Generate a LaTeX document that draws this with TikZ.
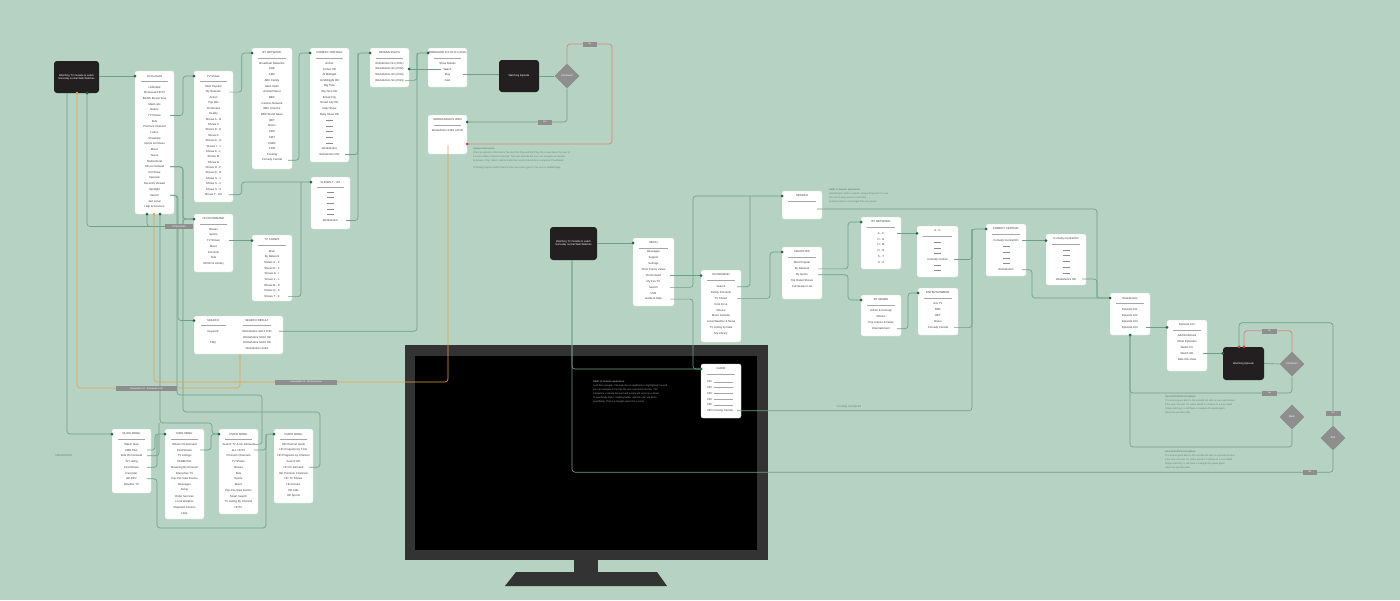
\documentclass[tikz,border=0pt]{standalone}
\usepackage{fontspec}
\setmainfont{Liberation Sans}
\usetikzlibrary{shapes.geometric,calc}
\definecolor{bgc}{HTML}{B6D2C3}
\definecolor{lnc}{HTML}{6FA086}
\definecolor{dtc}{HTML}{1F6B3D}
\definecolor{orc}{HTML}{F0A04B}
\definecolor{rdc}{HTML}{D98A7E}
\definecolor{rdd}{HTML}{E53935}
\definecolor{gyc}{HTML}{8E8E8E}
\definecolor{blc}{HTML}{231F20}
\definecolor{txc}{HTML}{3A3A3A}
\definecolor{ntc}{HTML}{6F8479}
\definecolor{tvf}{HTML}{333333}
\newcommand\dsh{\textcolor{black!45}{\rule[0.8pt]{7pt}{0.15pt}}}
\newcommand\menubox[6]{%
  \node[bx, minimum width={(#4)-(#2)}, minimum height={(#5)-(#3)}] (#1) at ({((#2)+(#4))/2},{((#3)+(#5))/2}) {};
  \node[ttl] (#1-t) at ({((#2)+(#4))/2},{(#3)+5}) {#6};
  \draw[rul] ({(#2)+6},{(#3)+9.7}) -- ({(#4)-6},{(#3)+9.7});
}
\newcommand\mitems[5]{%
  \foreach \itxt [count=\i] in {#5} {\node[itm] (#1-\i) at (#2,{(#3)+(\i-1)*(#4)}) {\itxt};}
}
\newcommand\msrc[2]{\coordinate (#1-#2-s) at ($(#1.east |- #1-#2)+(-4,0)$);}
\tikzset{
 bx/.style={draw=black!15, line width=0.3pt, fill=white, rounded corners=2pt, inner sep=0pt, outer sep=0pt},
 ttl/.style={font=\fontsize{2.8}{3}\selectfont, text=txc, inner sep=0pt},
 itm/.style={font=\fontsize{2.8}{3}\selectfont, text=txc, inner sep=0pt},
 rul/.style={draw=black!35, line width=0.3pt},
 conn/.style={draw=lnc, line width=0.65pt, rounded corners=3pt},
 oconn/.style={draw=orc, line width=0.65pt, rounded corners=3pt},
 rconn/.style={draw=rdc, line width=0.8pt, rounded corners=3pt},
 gdot/.style={circle, fill=dtc, inner sep=0pt, minimum size=3pt},
 odot/.style={circle, fill=orc, inner sep=0pt, minimum size=3pt},
 rdot/.style={circle, fill=rdd, inner sep=0pt, minimum size=3pt},
 lbl/.style={fill=gyc, text=white, font=\fontsize{2.2}{2.5}\selectfont, inner sep=0pt, minimum height=5pt},
 blk/.style={fill=blc, rounded corners=3pt, text=white, font=\fontsize{2.6}{3.2}\selectfont, align=center, inner sep=0pt},
 dia/.style={diamond, fill=gyc, text=white, font=\fontsize{2.6}{3}\selectfont, inner sep=0pt, minimum width=25pt, minimum height=25pt},
 note/.style={font=\fontsize{2.4}{3.9}\selectfont, text=ntc, align=left, inner sep=0pt, anchor=north west},
}
\begin{document}
\begin{tikzpicture}[x=1pt,y=-1pt]
\useasboundingbox (0,0) rectangle (1400,600);
\fill[bgc] (0,0) rectangle (1400,600);
% TV
\fill[tvf] (405,345) rectangle (768,560);
\fill[black] (415,356) rectangle (757,550);
\fill[tvf] (574,560) rectangle (598,572);
\fill[tvf] (516,572) -- (657,572) -- (667,586) -- (505,586) -- cycle;

% black boxes and diamonds
\node[blk, minimum width=45pt, minimum height=32pt] (b1) at (76.5,77) {Watching TV Outside to watch\\Someday normal Web Watches};
\node[blk, minimum width=47pt, minimum height=33pt] (b2) at (573.5,243.5) {Watching TV Outside to watch\\Someday normal Web Watches};
\node[blk, minimum width=40pt, minimum height=32pt] (b3) at (519,76) {Watching Episode};
\node[blk, minimum width=41pt, minimum height=33pt] (b4) at (1243.5,363.5) {Watching Episode};
\node[dia] (dC1) at (567,76) {Continue?};
\node[dia] (dC2) at (1292,364) {Continue?};
\node[dia] (dBk) at (1292,417) {Back};
\node[dia] (dEx) at (1333,438) {Exit};

% left boxes
\menubox{onD}{135}{71}{174}{214}{On Demand}
\mitems{onD}{154.5}{87}{5.7}{Unbridled,Showcase/HDTV,BASIS Boxed Sets,Mad Lists,Nature,TV Shows,Kids,Premium Channel,Latino,Showtime,Sports \& Fitness,Music,Teens,Multicultural,HD on Demand,Pet Show,Specials,Recently Viewed,Spotlight,Search,Get Local,Help \& Services}
\menubox{tvs}{194}{71}{233}{202}{TV Shows}
\mitems{tvs}{213.5}{86.7}{5.4}{Most Popular,By Network,Action,Pop Bits,10 Minutes,Reality,Shows A - B,Shows C,Shows D - E,Shows F,Shows G - H,Shows I - J,Shows K - L,Shows M,Shows N,Shows O - P,Shows Q - R,Shows S - 1,Shows S - 2,Shows S - 3,Shows T - Z/\#}
\menubox{byn}{252}{48}{292}{169}{BY NETWORK}
\mitems{byn}{272}{63.3}{5.7}{Broadcast Networks,A\&E,AMC,ABC Family,Adult Swim,Animal Planet,BBC,Cartoon Network,BBC America,BBC World News,BET,Bravo,CBS,CMT,CNBC,CNN,Cooking,Comedy Central}
\menubox{cc}{310}{48}{349}{162}{COMEDY CENTRAL}
\mitems{cc}{329.5}{63.3}{5.7}{Archer,Archer HD,At Midnight,At Midnight HD,Big Time,Big Time HD,Broad City,Broad City HD,Daily Show,Daily Show HD,\dsh,\dsh,\dsh,\dsh,\dsh,Workaholics,Workaholics HD}
\menubox{wk}{370}{48}{409}{87}{WORKAHOLICS}
\mitems{wk}{389.5}{63.3}{5.7}{Workaholics S1 (2011),Workaholics S2 (2012),Workaholics S3 (2013),Workaholics S4 (2014)}
\menubox{wke}{428}{48}{467}{87}{WORKAHOLICS S1 E1 (2011)}
\mitems{wke}{447.5}{63.3}{5.7}{Show Details,Watch,Play,Cast}
\menubox{wki}{428}{115}{467}{154}{WORKAHOLICS INFO}
\mitems{wki}{447.5}{130.7}{5.7}{Workaholics S1E1 (2011)}
\menubox{stz}{311}{177}{350}{229}{SHOWS T - Z/\#}
\mitems{stz}{330.5}{192}{5.7}{\dsh,\dsh,\dsh,\dsh,\dsh,Workaholics}
\menubox{hd}{194}{214}{233}{272}{HD ON DEMAND}
\mitems{hd}{213.5}{229.3}{5.7}{Movies,Sports,TV Shows,Music,Premium,Kids,HD/3D \& Library}
\menubox{tvt}{252}{235}{292}{301}{TV SHOWS}
\mitems{tvt}{272}{251}{5.7}{Main,By Network,Shows A - C,Shows D - F,Shows G - I,Shows J - L,Shows M - P,Shows Q - S,Shows T - Z}
% search box
\node[bx, minimum width=89pt, minimum height=38pt] (srch) at (238.5,335) {};
\node[ttl] (srch-t) at (213,320.5) {SEARCH};
\node[ttl] (srch-t2) at (257,320.5) {SEARCH RESULT};
\draw[rul] (201,325.5) -- (226,325.5);
\draw[rul] (243,325.5) -- (271,325.5);
\node[itm] (srch-l1) at (213,331.3) {Keyword};
\node[itm] (srch-l2) at (213,342.7) {TBQ};
\node[itm] (srch-r1) at (257,331.3) {Workaholics S1E1 THD};
\node[itm] (srch-r2) at (257,337) {Workaholics S1E2 HD};
\node[itm] (srch-r3) at (257,342.7) {Workaholics S1E3 HD};
\node[itm] (srch-r4) at (257,348.3) {Workaholics S1E4};
% bottom row
\menubox{qa}{112}{429}{151}{493}{QUICK MENU}
\mitems{qa}{131.5}{444.3}{5.75}{Watch Now,HBO Plus,Kids On Demand,TV Listing,Find Shows,Recorder,HD-EPV,Weather TV}
\menubox{mm}{165}{429}{204}{519}{MAIN MENU}
\mitems{mm}{184.5}{444.3}{5.75}{What's On Demand,Find Shows,TV Listings,PARENTAL,Browsing By Channel,Interactive TV,Pay-Per-View Events,Messages,Setup,Order Services,Local Weather,Reported Comms,Help}
\menubox{vm}{219}{429}{258}{514}{DVR/O MENU}
\mitems{vm}{238.5}{444.3}{5.75}{Search TV \& On Demand,ALL HDTV,Premium Channels,TV Shows,Movies,Kids,Sports,Music,Pay-Per-View Events,Smart Search,TV Listing By Channel,HDTV}
\menubox{hm}{274}{429}{313}{503}{DVR/O MENU}
\mitems{hm}{293.5}{444.3}{5.75}{HD Channel Guide,HD Programs by Time,HD Programs by Channel,Search HD,HD On Demand,HD Premium Channels,HD TV Shows,HD Movies,HD Kids,HD Sports}
% middle
\menubox{menu}{633}{238}{674}{306}{MENU}
\mitems{menu}{653.5}{252.3}{5.85}{Messages,Support,Settings,Short Frame Views,On Demand,My Fav TV,Search,DVR,Guide \& Help}
\menubox{od}{701}{270}{741}{342}{ON DEMAND}
\mitems{od}{721}{286.7}{5.85}{Search,Family Premium,TV Shows,Kids Zone,Movies,Music \& Radio,Local Weather \& News,TV Listing by Date,My Library}
\menubox{sr}{782}{191}{822}{219}{SEARCH}
\menubox{fav}{782}{247}{822}{299}{FAVORITES}
\mitems{fav}{802}{263}{5.9}{Most Popular,By Network,By Genre,Top Rated Shows,Full Season List}
\menubox{bn}{861}{217}{901}{269}{BY NETWORK}
\mitems{bn}{881}{233.3}{5.85}{A - C,D - G,H - M,N - R,S - T,U - Z}
\menubox{ac}{917}{226}{958}{277}{A - C}
\mitems{ac}{937.5}{242.7}{5.6}{\dsh,\dsh,\dsh,Comedy Central,\dsh,\dsh}
\menubox{bg}{861}{295}{901}{336}{BY GENRE}
\mitems{bg}{881}{311}{5.9}{Action \& Comedy,Movies,Pop Culture \& News,Entertainment}
\menubox{ent}{918}{288}{958}{335}{ENTERTAINMENT}
\mitems{ent}{938}{304}{5.9}{Ace TV,BBC,BET,Bravo,Comedy Central}
\menubox{cc2}{986}{224}{1026}{276}{COMEDY CENTRAL}
\mitems{cc2}{1006}{240.7}{5.8}{Comedy Central HD,\dsh,\dsh,\dsh,\dsh,Workaholics}
\menubox{cch}{1046}{234}{1086}{285}{Comedy Central HD}
\mitems{cch}{1066}{250}{5.8}{\dsh,\dsh,\dsh,\dsh,\dsh,Workaholics HD}
\menubox{wk2}{1110}{293}{1150}{335}{Workaholics}
\mitems{wk2}{1130}{309.3}{6}{Episode 101,Episode 102,Episode 103,Episode 104}
\menubox{ep}{1167}{320}{1207}{371}{Episode 104}
\mitems{ep}{1187}{335.7}{5.9}{Add Bookmark,Other Episodes,Watch CC,Watch HD,Rate this show}
\menubox{gd}{701}{364}{741}{418}{GUIDE}
\foreach \k [count=\i] in {010,020,030,040,050} {
  \node[itm, anchor=west] (gd-\i) at (707,{381.7+(\i-1)*5.8}) {\k};
  \draw[rul] ($(gd-\i.east)+(1.5,0)$) -- (733,{381.7+(\i-1)*5.8});
}
\node[itm, anchor=west] (gd-6) at (707,410.7) {060 Comedy Central};

% coordinates for dots and starts
\foreach \b in {onD,tvs,byn,cc,wk,wke,stz,hd,qa,mm,vm,hm,menu,sr,fav,bn,bg,ent,cc2,wk2,gd} {\coordinate (\b-d) at (\b.west |- \b-t);}
\coordinate (srch-d) at (srch.west |- srch-t);
\coordinate (tvt-d) at (tvt.west |- hd-3);
\coordinate (od-d) at (od.west |- menu-5);
\coordinate (ac-d) at (ac.west |- bn-1);
\coordinate (cch-d) at (cch.west |- cc2-1);
\coordinate (ep-d) at (ep.west |- wk2-4);
\coordinate (b4-d) at (b4.west |- ep-4);
\coordinate (wk2-b) at (wk2.south);
\coordinate (wk-r) at (wk.east |- wk-2);
\coordinate (wki-g) at ($(wki.north east)+(0,7)$);
\coordinate (wki-r) at ($(wki.north east)+(0,29)$);
\coordinate (b1g) at ($(b1.south)+(10.5,0)$);
\coordinate (b1o) at ($(b1.south)+(0.5,0)$);
\coordinate (onDd1) at ($(onD.south)+(-7.5,0)$);
\coordinate (onDo) at ($(onD.south)+(-0.5,0)$);
\coordinate (onDd2) at ($(onD.south)+(5.5,0)$);
\coordinate (b4r1) at ($(b4.north)+(-4.5,0)$);
\coordinate (b4r2) at ($(b4.north)+(0.5,0)$);
\coordinate (sr-s) at ($(sr.east)+(-5,4)$);
\coordinate (jn1) at (183,226.5);
\coordinate (jn2) at (177,395);
\coordinate (jn3) at (183,412);
\coordinate (jn4) at ($(vm-d)+(-7,-11)$);
\coordinate (jn6) at (157,528);
\msrc{onD}{6}\msrc{onD}{15}\msrc{onD}{20}\msrc{tvs}{2}\msrc{tvs}{21}\msrc{byn}{18}
\msrc{cc}{17}\msrc{stz}{6}\msrc{wk}{4}\msrc{wke}{3}\msrc{hd}{3}\msrc{tvt}{9}\msrc{srch}{r1}
\msrc{qa}{2}\msrc{qa}{3}\msrc{qa}{5}\msrc{qa}{7}\msrc{mm}{2}\msrc{vm}{1}\msrc{vm}{2}\msrc{hm}{5}
\msrc{menu}{5}\msrc{menu}{7}\msrc{menu}{9}\msrc{od}{1}\msrc{od}{3}\msrc{fav}{2}\msrc{fav}{3}
\msrc{bn}{1}\msrc{bg}{4}\msrc{ac}{4}\msrc{ent}{5}\msrc{gd}{6}\msrc{cc2}{1}\msrc{cc2}{6}\msrc{cch}{6}
\msrc{wk2}{4}\msrc{ep}{4}

% connectors left
\draw[conn] (b1.east |- onD-d) -- (onD-d);
\draw[conn] (onD-6-s) -| ($(tvs-d)+(-11,0)$) -- (tvs-d);
\draw[conn] (tvs-2-s) -| ($(byn-d)+(-10.3,0)$) -- (byn-d);
\draw[conn] (byn-18-s) -| ($(cc-d)+(-11,0)$) -- (cc-d);
\draw[conn] (cc-17-s) -| ($(wk-d)+(-12,0)$) -- (wk-d);
\draw[conn] (stz-6-s) -| ($(wk-d)+(-12,0)$);
\draw[conn] (wk-4-s) -| ($(wke-d)+(-11,0)$) -- (wke-d);
\draw[conn] (srch-r1-s) -| ($(wke-d)+(-11,0)$);
\draw[conn] (wk-r) -- ($(wke-2.west)+(-2,0)$);
\draw[conn] (wke-3-s) -- (b3.west |- wke-3-s);
\draw[conn] (b3.east) -- (dC1.west);
\draw[rconn] (dC1.north) |- (612,44) |- (wki-r);
\draw[conn] (dC1.south) |- (wki-g);
\draw[conn] (tvs-21-s) -| ($(stz-d)+(-69.3,0)$) -- (stz-d);
\draw[conn] (tvt-9-s) -| ($(stz-d)+(-10,0)$);
\draw[conn] (onD-15-s) -| ($(hd-d)+(-11,0)$) -- (hd-d);
\draw[conn] (b1g) |- (jn1) |- (hd-d);
\draw[conn] (onDd1) |- (jn1);
\draw[conn] (hd-3-s) -- (tvt-d);
\draw[conn] (onD-20-s) -| ($(srch-d)+(-16,0)$) -- (srch-d);
\draw[conn] (onD-20-s) -| (jn2) -| ($(vm-1-s)+(8,0)$) -- (vm-1-s);
\draw[conn] (onD-15-s) -| (jn3) -| ($(hm-5-s)+(11,0)$) -- (hm-5-s);
\draw[conn] (onDd2) |- (jn4) |- (vm-d);
\draw[conn] ($(b1.south)+(-9.5,0)$) |- (qa-d);
\draw[oconn] (b1o) |- ($(srch.south)+(1.5,34)$) -- ($(srch.south)+(1.5,0)$);
\draw[oconn] (onDo) |- ($(wki.south)+(0.5,228)$) -- ($(wki.south)+(0.5,-9)$);
\draw[conn] (qa-2-s) -| ($(mm-d)+(-10,0)$) -- (mm-d);
\draw[conn] (qa-3-s) -| ($(jn4)+(-53,0)$);
\draw[conn] (qa-5-s) -| ($(mm-d)+(-8,0)$);
\draw[conn] (qa-7-s) -| (jn6) -| ($(hm-d)+(-8,0)$) -- (hm-d);
\draw[conn] (mm-2-s) -| ($(vm-d)+(-8,0)$) -- (vm-d);
\draw[conn] (vm-2-s) -| ($(hm-d)+(-8,0)$);
% connectors middle / right
\draw[conn] (b2.east |- menu-d) -- (menu-d);
\draw[conn] (menu-5-s) -- (od-d);
\draw[conn] (menu-7-s) -| ($(sr-d)+(-89,0)$) -- (sr-d);
\draw[conn] (od-1-s) -| ($(sr-d)+(-32,0)$);
\draw[conn] (od-3-s) -| ($(fav-d)+(-12,0)$) -- (fav-d);
\draw[conn] (menu-9-s) -| ($(gd-d)+(-8,0)$) -- (gd-d);
\draw[conn] ($(b2.south)+(-1.5,0)$) |- (gd-d);
\draw[conn] (dEx.south) |- ($(b2.south)+(-1.5,212)$) -- ($(b2.south)+(-1.5,0)$);
\draw[conn] (sr-s) -| ($(wk2-d)+(-13,0)$) -- (wk2-d);
\draw[conn] (fav-2-s) -| ($(bn-d)+(-13,0)$) -- (bn-d);
\draw[conn] (fav-3-s) -| ($(bg-d)+(-13,0)$) -- (bg-d);
\draw[conn] (bn-1-s) -- (ac-d);
\draw[conn] (bg-4-s) -| ($(ent-d)+(-10,0)$) -- (ent-d);
\draw[conn] (ac-4-s) -| ($(cc2-d)+(-14,0)$) -- (cc2-d);
\draw[conn] (ent-5-s) -| ($(cc2-d)+(-14,0)$);
\draw[conn] (gd-6-s) -| ($(cc2-d)+(-14,0)$);
\draw[conn] (cc2-1-s) -- (cch-d);
\draw[conn] (cc2-6-s) -| ($(wk2-d)+(-78,0)$) -- (wk2-d);
\draw[conn] (cch-6-s) -| ($(wk2-d)+(-13,0)$);
\draw[conn] (wk2-4-s) -- (ep-d);
\draw[conn] (ep-4-s) -- (b4-d);
\draw[conn] (b4.east) -- (dC2.west);
\draw[rconn] (dC2.north) |- ($(b4r2)+(0,-16)$) -- (b4r2);
\draw[conn] (b4r1) -- ($(b4r1)+(0,-24)$) -| (dEx.north);
\draw[conn] (dC2.south) |- ($(wk2.south)+(0,58)$) -- (wk2-b);
\draw[conn] (dBk.south) |- ($(wk2.south)+(0,112)$) -- (wk2-b);

% dots
\foreach \p in {onD-d,tvs-d,byn-d,cc-d,wk-d,wke-d,wk-r,stz-d,hd-d,tvt-d,srch-d,qa-d,mm-d,vm-d,hm-d,b1g,onDd1,onDd2,wki-g,menu-d,od-d,sr-d,fav-d,bn-d,ac-d,bg-d,ent-d,cc2-d,cch-d,wk2-d,ep-d,b4-d,gd-d,wk2-b} {\node[gdot] (\p-n) at (\p) {};}
\foreach \p in {b1o,onDo} {\node[odot] (\p-n) at (\p) {};}
\foreach \p in {wki-r,b4r1,b4r2} {\node[rdot] (\p-n) at (\p) {};}

% labels
\node[lbl, minimum width=28pt] (L1) at (179,226.5) {CATEGORIES};
\node[lbl, minimum width=61pt] (L2) at (146.5,388.5) {Unavailable S1 - Scheduled to Air};
\node[lbl, minimum width=62pt] (L3) at (306,382) {Unavailable S1 - Still Airing Now};
\node[lbl, minimum width=14pt] (L4) at (590,44) {No};
\node[lbl, minimum width=14pt] (L5) at (545,122) {Yes};
\node[lbl, minimum width=15pt] (L6) at (1269.5,331) {No};
\node[lbl, minimum width=15pt] (L7) at (1269.5,393) {Yes};
\node[lbl, minimum width=15pt] (L8) at (1333,413) {Yes};
\node[lbl, minimum width=14pt] (L9) at (1310,472) {No};

% notes
\node[note] (N1) at (473,148) {\textbf{System Interaction}\\Once an episode is finished or the user hits Play and Exit Play, the screen takes the user to\\a screen where it doesn't interrupt. The next episode the user can navigate as needed\\to Browse, Play, Select, and Exit after the current interaction is complete (if available).\\[3pt]If nothing happens within interval time, the screen goes to the next or related page.};
\node[note] (N2) at (829,189) {\textbf{Skills of Search experience}\\Something to write in search, using a keyword or to use\\short term every search connected\\system search to use longer than any search};
\node[note, text=white!65!black] (N3) at (593,381) {\textbf{Skills of Search experience.}\\Less Discoverable: The selection is signified by a highlighted row and\\you can navigate to the title the user selected in the tab. The\\interaction is initially focused and people will scroll up or down\\to specifically find it. Swiping further right the user will find it\\specifically. That is a straight search for a result.};
\node[note] (N4) at (1165,396) {\textbf{Cancel/Confirm Interaction}\\The screen goes back to the episode list after an episode finishes\\if the user chooses `no' when asked to continue to a new Detail\\`Binge watching' or will have to navigate the guide again\\when the episode ends.};
\node[note] (N5) at (1165,451) {\textbf{Cancel/Confirm Interaction}\\The screen goes back to the episode list after an episode finishes\\if the user chooses `no' when asked to continue to a new Detail\\`Binge watching' or will have to navigate the guide again\\when the episode ends.};
\node[itm, text=ntc] (N6) at (849,407) {Comedy Central 60};
\node[itm, text=ntc] (N7) at (64,456) {NAVIGATION};
\end{tikzpicture}
\end{document}
